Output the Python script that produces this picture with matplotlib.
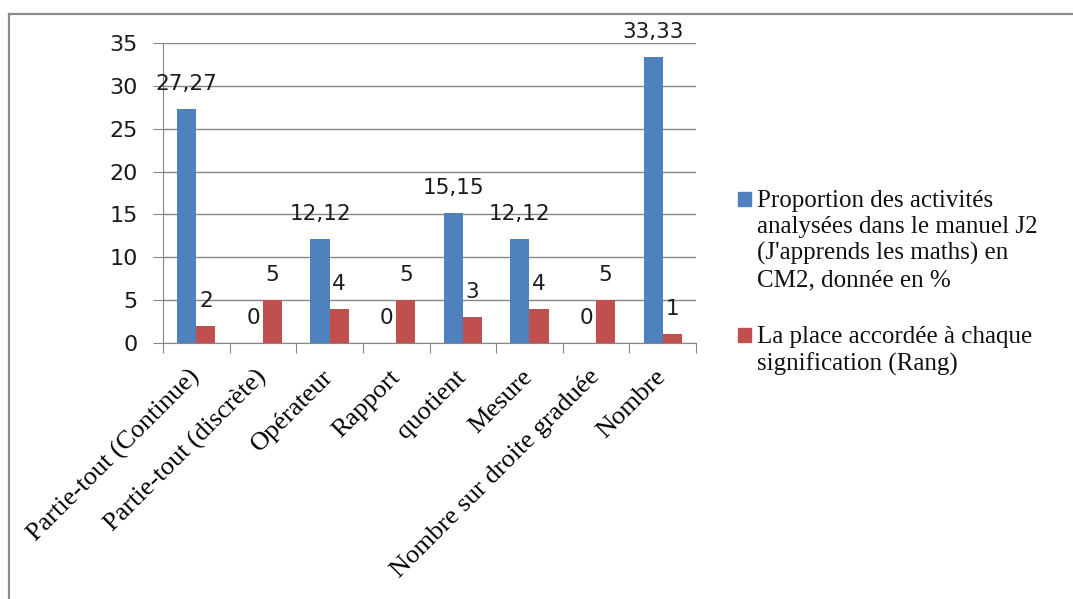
import matplotlib
matplotlib.use("Agg")
import matplotlib.pyplot as plt
import numpy as np
from matplotlib.lines import Line2D
from matplotlib.patches import Rectangle

# data
categories = ["Partie-tout (Continue)", "Partie-tout (discrète)", "Opérateur", "Rapport",
              "quotient", "Mesure", "Nombre sur droite graduée", "Nombre"]
proportion = [27.27, 0, 12.12, 0, 15.15, 12.12, 0, 33.33]
rang = [2, 5, 4, 5, 3, 4, 5, 1]
label_prop = ("Proportion des activités\nanalysées dans le manuel J2\n"
              "(J'apprends les maths) en\nCM2, donnée en %")
label_rang = "La place accordée à chaque\nsignification (Rang)"

def fmt(v):
    if float(v).is_integer():
        return str(int(v))
    return f"{v:.2f}".replace(".", ",")

W, H = 1073, 599
fig = plt.figure(figsize=(W / 100, H / 100), dpi=100)
ax = fig.add_axes([163 / W, 1 - 343 / H, (696 - 163) / W, 300 / H])

x = np.arange(len(categories))
bw = 0.287
blue, red = "#4F81BD", "#C0504D"
b1 = ax.bar(x - bw / 2, proportion, bw, color=blue, zorder=3)
b2 = ax.bar(x + bw / 2, rang, bw, color=red, zorder=3)

for bars, vals in ((b1, proportion), (b2, rang)):
    for r, v in zip(bars, vals):
        ax.annotate(fmt(v), (r.get_x() + r.get_width() / 2, r.get_height()),
                    xytext=(0, 25), textcoords="offset pixels", ha="center", va="center",
                    fontsize=15.5, family="DejaVu Sans", color="#1a1a1a", zorder=4)

ax.set_xlim(-0.5, len(categories) - 0.5)
ax.set_ylim(0, 35)
ax.set_yticks(range(0, 36, 5))
ax.tick_params(axis="y", labelsize=16, length=7, color="#868686", pad=11, labelcolor="#1a1a1a")
ax.grid(axis="y", color="#868686", lw=1, zorder=0)

# category boundary ticks + centred labels
ax.set_xticks(np.arange(-0.5, len(categories), 1.0))
ax.set_xticklabels([])
ax.tick_params(axis="x", length=7, color="#868686")
ax.set_xticks(x, minor=True)
ax.set_xticklabels(categories, minor=True, rotation=45, ha="right", rotation_mode="anchor",
                   family="Liberation Serif", fontsize=19, va="center")
ax.tick_params(axis="x", which="minor", length=0, pad=22)

for s in ["top", "right"]:
    ax.spines[s].set_visible(False)
for s in ["left", "bottom"]:
    ax.spines[s].set_color("#868686")

# legend, handles aligned with the first line of each label
for txt, col, ytop in ((label_prop, blue, 190), (label_rang, red, 326)):
    fig.patches.append(Rectangle((738 / W, 1 - (ytop + 16) / H), 13 / W, 14 / H,
                                 transform=fig.transFigure, color=col))
    fig.text(757 / W, 1 - ytop / H, txt, ha="left", va="top", family="Liberation Serif",
             fontsize=18, linespacing=1.24, color="#111111")

# outer frame (top + left only)
fig.add_artist(Line2D([9 / W, 1], [1 - 14 / H, 1 - 14 / H], color="#8c8c8c", lw=1.6))
fig.add_artist(Line2D([9 / W, 9 / W], [0, 1 - 14 / H], color="#8c8c8c", lw=1.6))

fig.savefig("out.png", dpi=100)
